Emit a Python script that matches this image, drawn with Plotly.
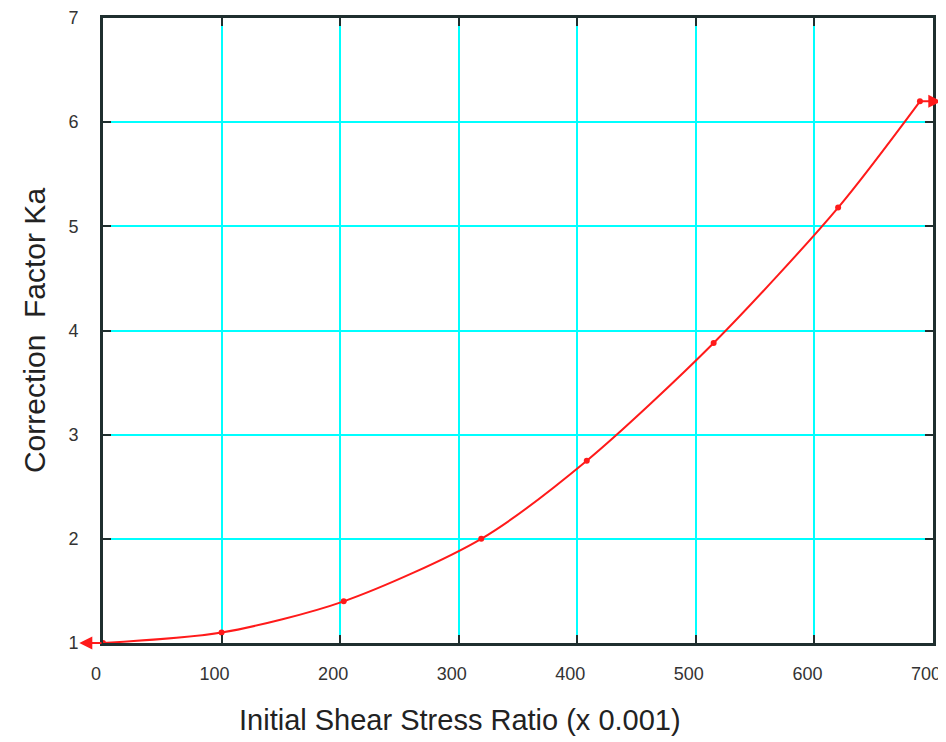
import plotly.graph_objects as go

x_vals = [0, 100, 203, 319, 408, 515, 620, 689]
y_vals = [1.0, 1.1, 1.4, 2.0, 2.75, 3.88, 5.18, 6.2]
x_ticks = [0, 100, 200, 300, 400, 500, 600, 700]
y_ticks = [1, 2, 3, 4, 5, 6, 7]

FONT = "Liberation Sans, Arial, sans-serif"

fig = go.Figure()
fig.add_trace(go.Scatter(
    x=x_vals, y=y_vals, mode="lines+markers",
    line=dict(color="#ff1a1a", width=2, shape="spline", smoothing=0.8),
    marker=dict(color="#ff1a1a", size=6),
    cliponaxis=False, showlegend=False,
))

# end arrows
fig.add_annotation(x=-20, y=y_vals[0], ax=x_vals[0], ay=y_vals[0],
                   xref="x", yref="y", axref="x", ayref="y", text="",
                   showarrow=True, arrowhead=2, arrowsize=1.3, arrowwidth=2,
                   arrowcolor="#ff1a1a")
fig.add_annotation(x=707, y=y_vals[-1], ax=x_vals[-1], ay=y_vals[-1],
                   xref="x", yref="y", axref="x", ayref="y", text="",
                   showarrow=True, arrowhead=2, arrowsize=1.3, arrowwidth=2,
                   arrowcolor="#ff1a1a")

# x-axis title (sits left of plot centre in the original)
fig.add_annotation(x=0.43, y=-0.123, xref="paper", yref="paper",
                   xanchor="center", yanchor="middle", showarrow=False,
                   text="Initial Shear Stress Ratio (x 0.001)",
                   font=dict(family=FONT, size=29, color="#222222"))

axis_common = dict(
    showgrid=True, gridcolor="#00ffff", gridwidth=2,
    showline=True, linecolor="#1f2f2f", linewidth=3, mirror="ticks",
    ticks="inside", ticklen=8, tickwidth=2, tickcolor="#1f2f2f",
    zeroline=False, automargin=False, ticklabeloverflow="allow",
    tickfont=dict(family=FONT, size=18, color="#333333"),
)

fig.update_xaxes(range=[0, 700], tickvals=x_ticks, ticklabelstandoff=12,
                 ticklabelshift=-7, **axis_common)
fig.update_yaxes(range=[1, 7], tickvals=y_ticks, ticklabelstandoff=18,
                 title=dict(text="Correction  Factor Ka", standoff=14,
                            font=dict(family=FONT, size=30, color="#222222")),
                 **axis_common)

# page body has an 8px default margin; size the figure to fit inside the window
fig.update_layout(
    width=938, height=734,
    margin=dict(l=95, r=13, t=10, b=99),
    plot_bgcolor="white", paper_bgcolor="white",
)

fig.write_html("out.html")
